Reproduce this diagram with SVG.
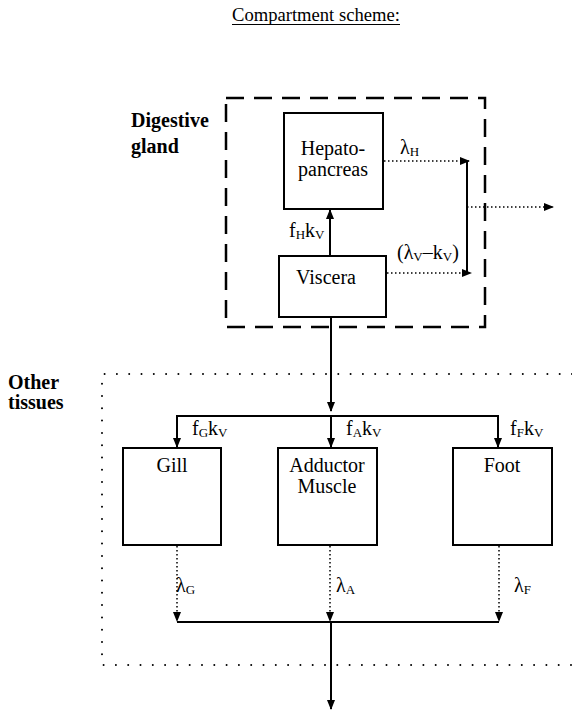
<svg xmlns="http://www.w3.org/2000/svg" width="572" height="712" viewBox="0 0 572 712">
<style>
text{font-family:"Liberation Serif","Times New Roman",serif;font-size:20px;fill:#000}
.b{font-weight:bold}
.sub{font-size:13px}
.box{fill:#fff;stroke:#000;stroke-width:2}
.solid{fill:none;stroke:#000;stroke-width:2}
.dot{fill:none;stroke:#000;stroke-width:1.5;stroke-dasharray:1.5 2.5}
</style>
<defs>
<marker id="ah" markerWidth="10" markerHeight="10" refX="9" refY="5" orient="auto" markerUnits="userSpaceOnUse">
<path d="M0,1 L10,5 L0,9 Z" fill="#000"/>
</marker>
</defs>
<rect width="572" height="712" fill="#fff"/>
<g id="title">
<text x="232" y="21" style="font-size:18.6px">Compartment scheme:</text>
<line x1="232" y1="24.5" x2="400" y2="24.5" stroke="#000" stroke-width="1.2"/>
</g>
<g id="digestive-gland">
<rect x="226" y="98" width="259" height="229" fill="none" stroke="#000" stroke-width="2.5" stroke-dasharray="18 10"/>
<text class="b" x="131" y="127">Digestive</text>
<text class="b" x="131" y="153">gland</text>
</g>
<g id="other-tissues">
<path d="M572,374 L102,374 L102,665 L572,665" fill="none" stroke="#000" stroke-width="2" stroke-linecap="round" stroke-dasharray="0 12.3"/>
<text class="b" x="8" y="389">Other</text>
<text class="b" x="8" y="409">tissues</text>
</g>
<g id="hepatopancreas">
<rect class="box" x="284" y="113" width="99" height="96"/>
<text x="333" y="155" text-anchor="middle">Hepato-</text>
<text x="333" y="176" text-anchor="middle">pancreas</text>
</g>
<g id="viscera">
<rect class="box" x="279" y="256" width="107" height="61"/>
<text x="326" y="284" text-anchor="middle">Viscera</text>
</g>
<g id="gill">
<rect class="box" x="123" y="448" width="98" height="97"/>
<text x="172" y="472" text-anchor="middle">Gill</text>
</g>
<g id="adductor-muscle">
<rect class="box" x="278" y="448" width="99" height="97"/>
<text x="327" y="472" text-anchor="middle">Adductor</text>
<text x="327" y="493" text-anchor="middle">Muscle</text>
</g>
<g id="foot">
<rect class="box" x="453" y="448" width="99" height="97"/>
<text x="502" y="472" text-anchor="middle">Foot</text>
</g>
<g id="connectors">
<line class="solid" x1="330" y1="256" x2="330" y2="210" marker-end="url(#ah)"/>
<line class="dot" x1="384" y1="161" x2="469" y2="161" marker-end="url(#ah)"/>
<line class="dot" x1="387" y1="273" x2="471" y2="273" marker-end="url(#ah)"/>
<line class="solid" x1="467" y1="161" x2="467" y2="272"/>
<line class="dot" x1="467" y1="207" x2="553" y2="207" marker-end="url(#ah)"/>
<line class="solid" x1="331" y1="318" x2="331" y2="411" marker-end="url(#ah)"/>
<line class="solid" x1="177" y1="416" x2="498" y2="416"/>
<line class="solid" x1="177" y1="415" x2="177" y2="447" marker-end="url(#ah)"/>
<line class="solid" x1="331" y1="416" x2="331" y2="447" marker-end="url(#ah)"/>
<line class="solid" x1="498" y1="415" x2="498" y2="447" marker-end="url(#ah)"/>
<line class="dot" x1="177" y1="546" x2="177" y2="621" marker-end="url(#ah)"/>
<line class="dot" x1="330" y1="546" x2="330" y2="621" marker-end="url(#ah)"/>
<line class="dot" x1="499" y1="546" x2="499" y2="621" marker-end="url(#ah)"/>
<line class="solid" x1="177" y1="622" x2="499" y2="622"/>
<line class="solid" x1="331" y1="622" x2="331" y2="709" marker-end="url(#ah)"/>
</g>
<g id="labels">
<text x="400" y="154">λ<tspan class="sub" dy="2">H</tspan></text>
<text x="289" y="237">f<tspan class="sub" dy="2">H</tspan><tspan dy="-2">k</tspan><tspan class="sub" dy="2">V</tspan></text>
<text x="397" y="259">(λ<tspan class="sub" dy="2">V</tspan><tspan dy="-2">–k</tspan><tspan class="sub" dy="2">V</tspan><tspan dy="-2">)</tspan></text>
<text x="192" y="435">f<tspan class="sub" dy="2">G</tspan><tspan dy="-2">k</tspan><tspan class="sub" dy="2">V</tspan></text>
<text x="346" y="435">f<tspan class="sub" dy="2">A</tspan><tspan dy="-2">k</tspan><tspan class="sub" dy="2">V</tspan></text>
<text x="510" y="435">f<tspan class="sub" dy="2">F</tspan><tspan dy="-2">k</tspan><tspan class="sub" dy="2">V</tspan></text>
<text x="176" y="592">λ<tspan class="sub" dy="2">G</tspan></text>
<text x="336" y="592">λ<tspan class="sub" dy="2">A</tspan></text>
<text x="514" y="592">λ<tspan class="sub" dy="2">F</tspan></text>
</g>
</svg>
